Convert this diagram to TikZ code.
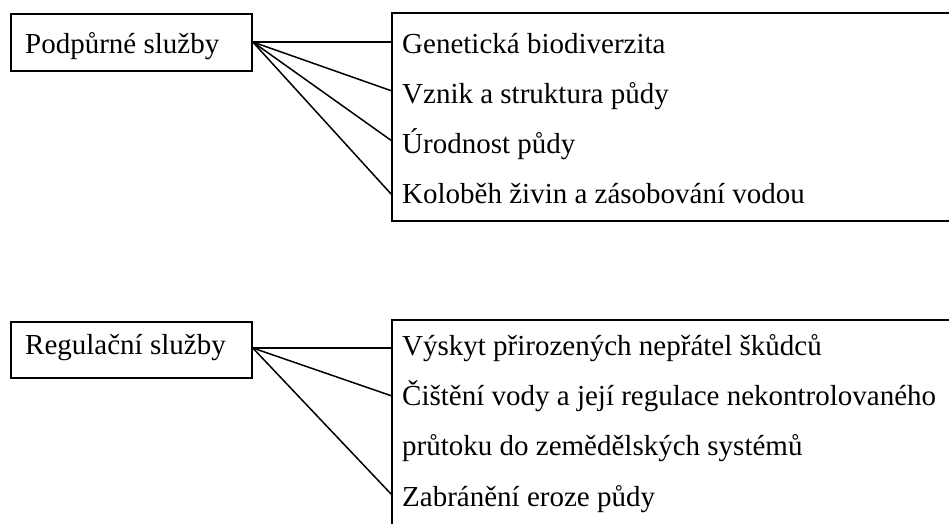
\documentclass[tikz,border=0pt]{standalone}
\usepackage{fontspec}
\setmainfont{Liberation Serif}
\begin{document}
\begin{tikzpicture}[x=1pt,y=-1pt,
  boxline/.style={draw=black, line width=1.8pt},
  conn/.style={draw=black, line width=1.5pt},
  txt/.style={inner sep=0pt, anchor=base west, font=\fontsize{29}{35}\selectfont}]
\clip (0,0) rectangle (949,523);
\useasboundingbox (0,0) rectangle (949,523);
% top group
\node[boxline, anchor=north west, minimum width=241pt, minimum height=57pt, inner sep=0pt] (pbox) at (10,13) {};
\node[txt] (ptxt) at (25,53) {Podpůrné služby};
\draw[boxline] (960,13) -- (392,13) -- (392,221) -- (960,221);
\coordinate (pr) at (pbox.east |- 0,42);
\coordinate (a1) at (392,42);
\coordinate (a2) at (392,91);
\coordinate (a3) at (392,141);
\coordinate (a4) at (392,195);
\node[txt] (g1) at (402,53) {Genetická biodiverzita};
\node[txt] (g2) at (402,103) {Vznik a struktura půdy};
\node[txt] (g3) at (402,153) {Úrodnost půdy};
\node[txt] (g4) at (402,203) {Koloběh živin a zásobování vodou};
\draw[conn] (pr) -- (a1);
\draw[conn] (pr) -- (a2);
\draw[conn] (pr) -- (a3);
\draw[conn] (pr) -- (a4);
% bottom group
\node[boxline, anchor=north west, minimum width=241pt, minimum height=56pt, inner sep=0pt] (rbox) at (10,321) {};
\node[txt] (rtxt) at (25,354) {Regulační služby};
\draw[boxline] (960,320) -- (392,320) -- (392,540);
\coordinate (rr) at (rbox.east |- 0,348);
\coordinate (b1) at (392,348);
\coordinate (b2) at (392,396);
\coordinate (b3) at (392,495);
\node[txt] (h1) at (402,355) {Výskyt přirozených nepřátel škůdců};
\node[txt] (h2) at (402,405) {Čištění vody a její regulace nekontrolovaného};
\node[txt] (h3) at (402,455) {průtoku do zemědělských systémů};
\node[txt] (h4) at (402,506) {Zabránění eroze půdy};
\draw[conn] (rr) -- (b1);
\draw[conn] (rr) -- (b2);
\draw[conn] (rr) -- (b3);
\end{tikzpicture}
\end{document}
